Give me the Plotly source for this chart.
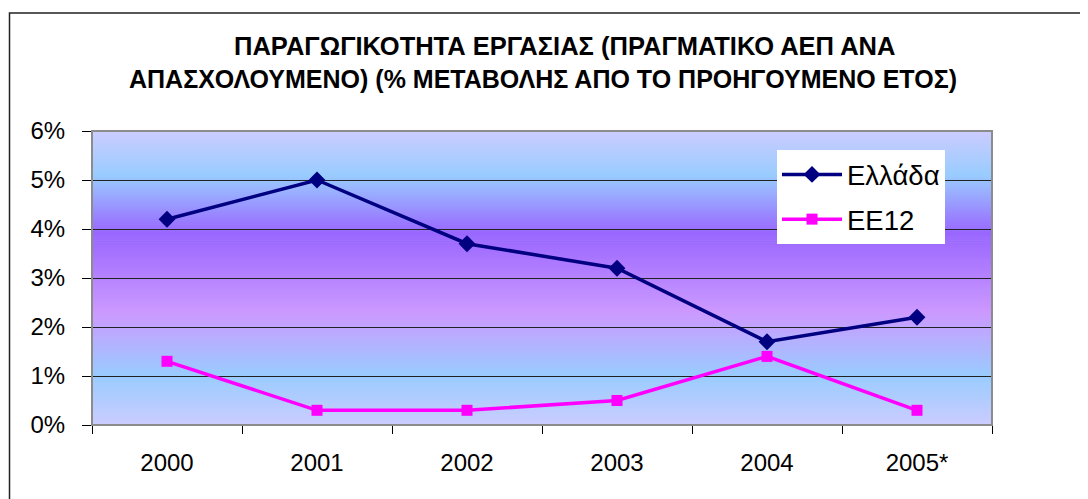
import plotly.graph_objects as go

years = ["2000", "2001", "2002", "2003", "2004", "2005*"]
greece = [4.2, 5.0, 3.7, 3.2, 1.7, 2.2]
eu12 = [1.3, 0.3, 0.3, 0.5, 1.4, 0.3]
y_ticks = [0, 1, 2, 3, 4, 5, 6]
y_tick_text = ["0%", "1%", "2%", "3%", "4%", "5%", "6%"]
title_line1 = "ΠΑΡΑΓΩΓΙΚΟΤΗΤΑ ΕΡΓΑΣΙΑΣ (ΠΡΑΓΜΑΤΙΚΟ ΑΕΠ ΑΝΑ"
title_line2 = "ΑΠΑΣΧΟΛΟΥΜΕΝΟ) (% ΜΕΤΑΒΟΛΗΣ ΑΠΟ ΤΟ ΠΡΟΗΓΟΥΜΕΝΟ ΕΤΟΣ)"

FONT = "Liberation Sans, Arial, sans-serif"

fig = go.Figure()
fig.add_trace(go.Scatter(
    x=years, y=greece, name="Ελλάδα", mode="lines+markers", legendgroup="a",
    line=dict(color="#000080", width=3.5),
    marker=dict(symbol="diamond", size=13, color="#000080"),
))
fig.add_trace(go.Scatter(
    x=years, y=eu12, name="EE12", mode="lines+markers", legendgroup="b",
    line=dict(color="#ff00ff", width=3.5),
    marker=dict(symbol="square", size=11, color="#ff00ff"),
))

# background vertical gradient (fraction of plot height, rgb)
stops = [(0.0, (204, 204, 255)), (1.0 / 6, (153, 204, 255)), (2.3 / 6, (204, 153, 255)),
         (3.9 / 6, (153, 102, 255)), (5.1 / 6, (153, 204, 255)), (1.0, (204, 204, 255))]

def col(t):
    for (t0, c0), (t1, c1) in zip(stops[:-1], stops[1:]):
        if t0 <= t <= t1:
            f = (t - t0) / (t1 - t0)
            return "rgb(%d,%d,%d)" % tuple(round(a + (b - a) * f) for a, b in zip(c0, c1))
    return "rgb(204,204,255)"

# page has an 8px body margin: plot area target is x 92..992, y 131..425 on screen
L, T, PW, PH = 84, 123, 900, 294

shapes = []
n = 150
for i in range(n):
    y0 = i / n
    y1 = (i + 1) / n
    shapes.append(dict(type="rect", xref="x domain", yref="y domain", x0=0, x1=1,
                       y0=y0, y1=y1 + 0.002, fillcolor=col((y0 + y1) / 2),
                       line=dict(width=0), layer="below"))
# plot area border (gray)
shapes.append(dict(type="rect", xref="x domain", yref="y domain", x0=0, x1=1, y0=0, y1=1,
                   line=dict(color="#8c8c8c", width=2), layer="above"))
# outer chart border (screen x 9.5, y 13)
shapes.append(dict(type="rect", xref="paper", yref="paper",
                   x0=(1.5 - L) / PW, x1=(1100 - L) / PW,
                   y0=(T + PH - 520) / PH, y1=(T + PH - 5) / PH,
                   line=dict(color="#222222", width=1.5), layer="below"))

def px(x):
    return (x - 8 - L) / PW

def py(y):
    return (T + PH - (y - 8)) / PH

fig.update_layout(
    width=1080, height=491, autosize=False,
    margin=dict(l=L, r=1080 - L - PW, t=T, b=491 - T - PH),
    paper_bgcolor="white", plot_bgcolor="#c8c8ff",
    font=dict(family=FONT, size=24, color="black"),
    shapes=shapes,
    showlegend=True,
    legend=dict(x=px(777), y=py(150), xanchor="left", yanchor="top",
                bgcolor="white", borderwidth=0, font=dict(size=27.5, family=FONT),
                traceorder="grouped", tracegroupgap=6, itemwidth=60),
    annotations=[
        dict(text="<b>" + title_line1 + "</b>", xref="paper", yref="paper",
             x=px(564), y=py(46), xanchor="center", yanchor="middle",
             showarrow=False, font=dict(size=25.5, family=FONT)),
        dict(text="<b>" + title_line2 + "</b>", xref="paper", yref="paper",
             x=px(543), y=py(79), xanchor="center", yanchor="middle",
             showarrow=False, font=dict(size=25, family=FONT)),
    ],
)
fig.update_xaxes(type="category", range=[-0.5, 5.5], tickson="boundaries", ticks="outside",
                 ticklen=8, tickcolor="black", showline=True, linecolor="black", linewidth=1,
                 showgrid=False, ticklabelstandoff=16, tickfont=dict(size=24))
fig.update_yaxes(range=[0, 6], tickvals=y_ticks, ticktext=y_tick_text, ticks="outside",
                 ticklen=9, tickcolor="black", showline=True, linecolor="#555555",
                 linewidth=1, showgrid=True, gridcolor="#222222", gridwidth=1,
                 zeroline=False, ticklabelstandoff=12, tickfont=dict(size=24))

fig.write_html("out.html")
